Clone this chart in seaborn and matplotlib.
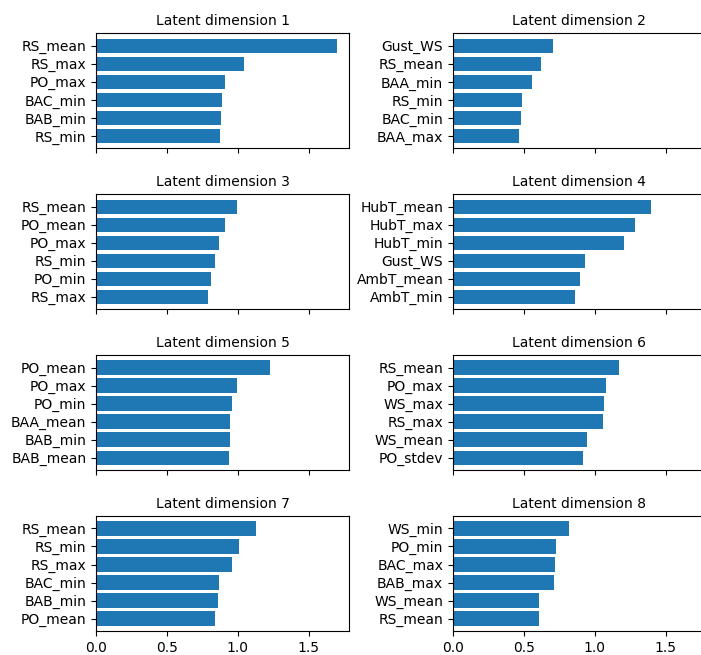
import matplotlib
matplotlib.use("Agg")
import matplotlib.pyplot as plt
import seaborn as sns

# top-6 feature importances per latent dimension
dim1_features = ["RS_mean", "RS_max", "PO_max", "BAC_min", "BAB_min", "RS_min"]
dim1_values = [1.70, 1.047, 0.909, 0.888, 0.880, 0.878]

dim2_features = ["Gust_WS", "RS_mean", "BAA_min", "RS_min", "BAC_min", "BAA_max"]
dim2_values = [0.703, 0.618, 0.557, 0.489, 0.477, 0.468]

dim3_features = ["RS_mean", "PO_mean", "PO_max", "RS_min", "PO_min", "RS_max"]
dim3_values = [0.997, 0.908, 0.868, 0.837, 0.809, 0.788]

dim4_features = ["HubT_mean", "HubT_max", "HubT_min", "Gust_WS", "AmbT_mean", "AmbT_min"]
dim4_values = [1.399, 1.288, 1.209, 0.929, 0.898, 0.858]

dim5_features = ["PO_mean", "PO_max", "PO_min", "BAA_mean", "BAB_min", "BAB_mean"]
dim5_values = [1.227, 0.997, 0.957, 0.948, 0.945, 0.936]

dim6_features = ["RS_mean", "PO_max", "WS_max", "RS_max", "WS_mean", "PO_stdev"]
dim6_values = [1.169, 1.077, 1.067, 1.058, 0.948, 0.917]

dim7_features = ["RS_mean", "RS_min", "RS_max", "BAC_min", "BAB_min", "PO_mean"]
dim7_values = [1.126, 1.009, 0.959, 0.868, 0.858, 0.837]

dim8_features = ["WS_min", "PO_min", "BAC_max", "BAB_max", "WS_mean", "RS_mean"]
dim8_values = [0.818, 0.729, 0.722, 0.715, 0.609, 0.604]

all_features = [dim1_features, dim2_features, dim3_features, dim4_features,
                dim5_features, dim6_features, dim7_features, dim8_features]
all_values = [dim1_values, dim2_values, dim3_values, dim4_values,
              dim5_values, dim6_values, dim7_values, dim8_values]

fig, axes = plt.subplots(4, 2, figsize=(7.01, 6.55), dpi=100, sharex=True)
fig.subplots_adjust(left=0.137, right=1.007, top=0.949, bottom=0.0366,
                    wspace=0.411, hspace=0.399)

for i, ax in enumerate(axes.flat):
    sns.barplot(x=all_values[i], y=all_features[i], orient="h", ax=ax,
                color="#1f77b4", saturation=1, width=0.8)
    ax.set_title(f"Latent dimension {i + 1}", fontsize=10)
    ax.set_xlabel("")
    ax.set_ylabel("")
    # restore matplotlib-style margins around the bars
    lo = min(p.get_y() for p in ax.patches)
    hi = max(p.get_y() + p.get_height() for p in ax.patches)
    pad = 0.05 * (hi - lo)
    ax.set_ylim(hi + pad, lo - pad)
    ax.tick_params(labelsize=10)

axes[0, 0].set_xticks([0.0, 0.5, 1.0, 1.5])

plt.savefig("out.png", dpi=100)
plt.close()
